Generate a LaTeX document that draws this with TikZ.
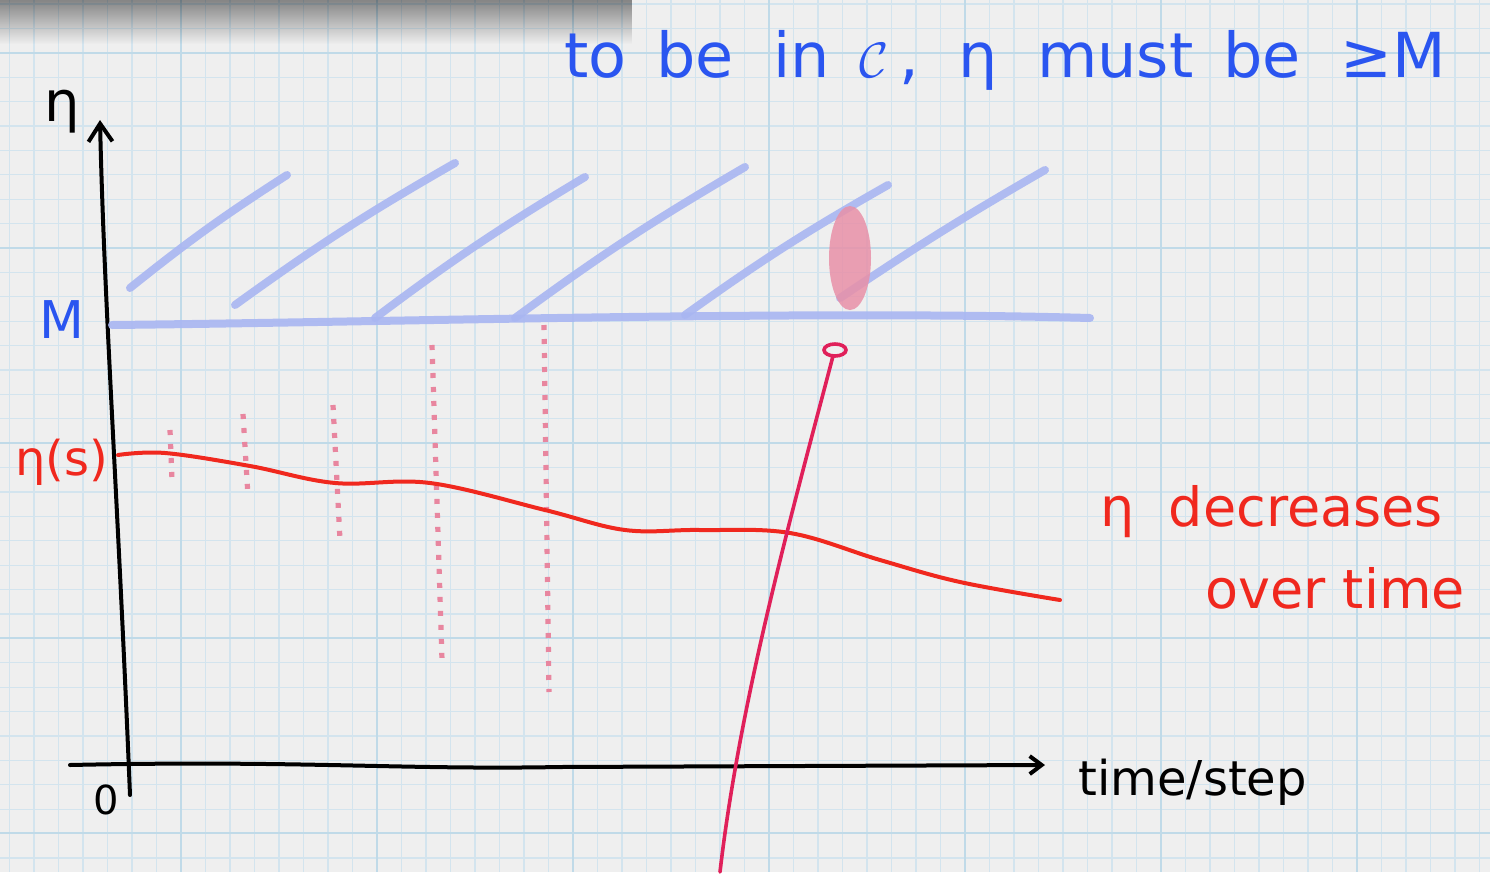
\documentclass[tikz,border=0pt]{standalone}
\usepackage{fontspec}
\setmainfont{DejaVu Sans}
\usepackage{amsmath}
\usepackage{xcolor}
\usetikzlibrary{arrows.meta,positioning,fadings,calc}

\definecolor{paper}{HTML}{EFEFEF}
\definecolor{gridlo}{HTML}{D3E4EE}
\definecolor{gridhi}{HTML}{C0DAE8}
\definecolor{inkblue}{HTML}{2A55F0}
\definecolor{crayon}{HTML}{A9B6F2}
\definecolor{inkred}{HTML}{F0281E}
\definecolor{dotpink}{HTML}{E8869F}
\definecolor{blobpink}{HTML}{E890A8}
\definecolor{crimson}{HTML}{E0205A}

\tikzset{
  gridminor/.style={gridlo, line width=0.6pt},
  gridmajor/.style={gridhi, line width=1.2pt},
  axis/.style={black, line width=2pt, line cap=round},
  hatch/.style={crayon, line width=4pt, line cap=round, opacity=0.9},
  dotcol/.style={dotpink, line width=2.6pt, dash pattern=on 2.5pt off 4.5pt},
  handtext/.style={inner sep=0pt, font=\fontsize{#1}{#1}\selectfont},
  handtext/.default=24pt
}

\begin{document}
\begin{tikzpicture}[x=0.5pt, y=-0.5pt]
% paper
\fill[paper] (0,0) rectangle (1490,872);
\begin{scope}
\clip (0,0) rectangle (1490,872);
\foreach \i in {0,...,62} {
  \draw[gridminor] ({-15+24.5*\i},0) -- ({-15+24.5*\i},872);
}
\foreach \j in {0,...,36} {
  \draw[gridminor] (0,{4+24.4*\j}) -- (1490,{4+24.4*\j});
}
\foreach \i in {0,...,8} {
  \draw[gridmajor] ({-15+196*\i},0) -- ({-15+196*\i},872);
}
\foreach \j in {0,...,4} {
  \draw[gridmajor] (0,{53+195*\j}) -- (1490,{53+195*\j});
}
% shadow of the sheet on top
\fill[black, opacity=0.5, path fading=south] (0,-6) rectangle (632,44);
\end{scope}

% axes
\coordinate (origin) at (128,765);
\coordinate (ytop) at (100,120);
\coordinate (ybot) at (130,795);
\coordinate (xleft) at (70,765);
\coordinate (xright) at (1045,765);
\draw[axis, -{Straight Barb[length=9pt, width=12pt]}] (ybot) .. controls (118,500) and (104,300) .. (ytop);
\draw[axis, -{Straight Barb[length=6pt, width=9pt]}] (xleft) .. controls (300,760) and (400,770) .. (560,767) -- (xright);

% threshold M and the hatched region above it
\coordinate (mleft) at (112,325);
\coordinate (mright) at (1090,318);
\draw[hatch] (mleft) .. controls (400,322) and (800,310) .. (mright);
\draw[hatch] (130,288) to[bend left=3] (287,175);
\draw[hatch] (235,305) to[bend left=3] (455,163);
\draw[hatch] (375,318) to[bend left=3] (585,177);
\draw[hatch] (515,318) to[bend left=3] (745,167);
\draw[hatch] (685,315) to[bend left=3] (888,185);
\draw[hatch] (840,298) to[bend left=2] (1045,170);
\fill[blobpink, opacity=0.85] (850,258) ellipse [x radius=21, y radius=52];

% pink dotted columns
\draw[dotcol] (170,430) -- (172,480);
\draw[dotcol] (243,414) -- (248,496);
\draw[dotcol] (333,405) -- (340,540);
\draw[dotcol] (432,345) -- (442,660);
\draw[dotcol] (544,325) -- (549,692);

% eta(s) curve
\draw[inkred, line width=2pt, line cap=round] plot[smooth, tension=0.6] coordinates {
  (118,455) (165,453) (250,466) (335,483) (430,483) (545,510)
  (625,530) (700,530) (790,533) (880,560) (960,582) (1060,600)};

% crimson trajectory
\coordinate (trajbot) at (720,872);
\coordinate (trajtop) at (833,356);
\draw[crimson, line width=1.8pt, line cap=round] (trajbot) .. controls (740,700) and (790,520) .. (trajtop);
\draw[crimson, line width=1.8pt] (835,350) ellipse [x radius=11, y radius=6];

% labels
\node[handtext=28pt, black] (etaaxis) at (62,112) {η};
\node[handtext=20pt, black] (zero) at (106,800) {0};
\node[handtext=24pt, black, anchor=west] (tlabel) at (1078,782) {time/step};
\node[handtext=26pt, inkblue] (mlabel) at (62,320) {M};
\node[handtext=24pt, inkred] (etas) at (62,462) {η(s)};
\node[handtext=31pt, inkblue] (goal) at (1005,60) {to\, be \ in\, $\mathcal{C}$\,, \ η \ must\, be \ ≥M};
\node[handtext=27pt, inkred, anchor=west] (dec1) at (1100,512) {η \ decreases};
\node[handtext=27pt, inkred, anchor=west] (dec2) at (1205,588) {over time};
\end{tikzpicture}
\end{document}
